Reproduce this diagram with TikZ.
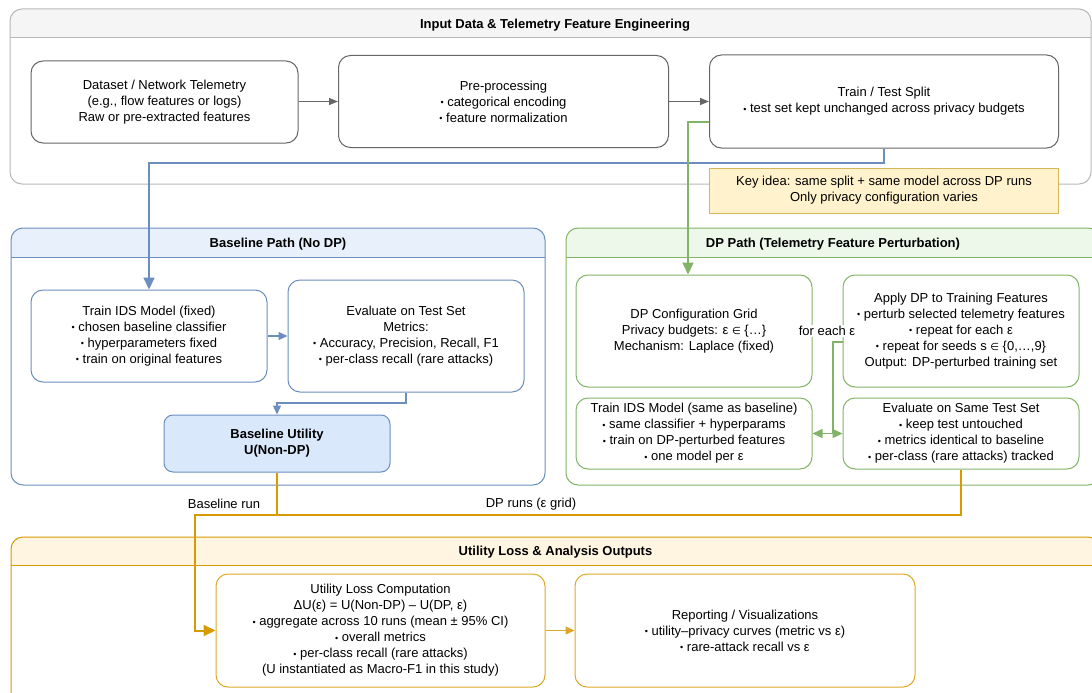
\documentclass[tikz,border=0pt]{standalone}
\usepackage{fontspec}
\setmainfont{Liberation Sans}
\newfontfamily\dv{DejaVu Sans}
\usetikzlibrary{arrows.meta}
\definecolor{gline}{HTML}{666666}
\definecolor{gcont}{HTML}{B8B8B8}
\definecolor{ghdr}{HTML}{F5F5F5}
\definecolor{bline}{HTML}{6C8EBF}
\definecolor{bhdr}{HTML}{E8F0FC}
\definecolor{bfill}{HTML}{DAE8FC}
\definecolor{gnline}{HTML}{82B366}
\definecolor{gnhdr}{HTML}{EDF7EA}
\definecolor{oline}{HTML}{D79B00}
\definecolor{obox}{HTML}{DDA82A}
\definecolor{ohdr}{HTML}{FFF5E1}
\definecolor{keyfill}{HTML}{FFF2CC}
\definecolor{keyline}{HTML}{D6B656}
\newcommand{\elem}{{\dv\fontsize{10}{16}\selectfont ∈}}
\newcommand{\bul}{{\fontsize{9}{16}\selectfont\raisebox{0.8pt}{•}}}
\tikzset{
  every node/.style={font=\fontsize{13}{16}\selectfont, text=black},
  box/.style={draw, rounded corners=12pt, fill=white, align=center, inner sep=2pt, line width=1pt},
  gbox/.style={box, draw=gline},
  bbox/.style={box, draw=bline},
  gnbox/.style={box, draw=gnline},
  obx/.style={box, draw=obox},
  ttl/.style={font=\bfseries\fontsize{13}{16}\selectfont},
  lbl/.style={font=\fontsize{13}{16}\selectfont},
  garr/.style={draw=gline, line width=1.2pt, -{Triangle[length=9pt,width=7pt]}},
  barr/.style={draw=bline, line width=1.3pt, -{Triangle[length=9pt,width=8pt]}},
  bigb/.style={draw=bline, line width=2pt, -{Triangle[length=12pt,width=11pt]}},
  bigg/.style={draw=gnline, line width=2pt, -{Triangle[length=12pt,width=11pt]}},
  gnarr/.style={draw=gnline, line width=1.5pt, -{Triangle[length=10pt,width=9pt]}},
  oln/.style={draw=oline, line width=2pt},
  bigo/.style={draw=oline, line width=2pt, -{Triangle[length=12pt,width=11pt]}},
  oarr/.style={draw=obox, line width=1.3pt, -{Triangle[length=9pt,width=8pt]}},
}
\begin{document}
\begin{tikzpicture}[x=1pt,y=-1pt]
\useasboundingbox (0,0) rectangle (1092,693);
\clip (0,0) rectangle (1092,693);
\fill[white] (0,0) rectangle (1092,693);

% ---------- containers ----------
% top
\begin{scope}
\clip[rounded corners=12pt] (10,9) rectangle (1091,184);
\fill[white] (10,9) rectangle (1091,184);
\fill[ghdr] (10,9) rectangle (1091,38);
\end{scope}
\draw[gcont, line width=1pt, rounded corners=12pt] (10,9) rectangle (1091,184);
\draw[gcont, line width=1pt] (10,38) -- (1091,38);
\node[ttl] (t1) at (555,25) {Input Data \& Telemetry Feature Engineering};

% baseline
\begin{scope}
\clip[rounded corners=12pt] (11,228) rectangle (545,485);
\fill[white] (11,228) rectangle (545,485);
\fill[bhdr] (11,228) rectangle (545,257);
\end{scope}
\draw[bline, line width=1pt, rounded corners=12pt] (11,228) rectangle (545,485);
\draw[bline, line width=1pt] (11,257) -- (545,257);
\node[ttl] (t2) at (278,244) {Baseline Path (No DP)};

% dp
\begin{scope}
\clip[rounded corners=12pt] (566,228) rectangle (1100,485);
\fill[white] (566,228) rectangle (1100,485);
\fill[gnhdr] (566,228) rectangle (1100,257);
\end{scope}
\draw[gnline, line width=1pt, rounded corners=12pt] (566,228) rectangle (1100,485);
\draw[gnline, line width=1pt] (566,257) -- (1100,257);
\node[ttl] (t3) at (833,244) {DP Path (Telemetry Feature Perturbation)};

% utility
\begin{scope}
\clip[rounded corners=12pt] (11,537) rectangle (1100,710);
\fill[white] (11,537) rectangle (1100,710);
\fill[ohdr] (11,537) rectangle (1100,565);
\end{scope}
\draw[oline, line width=1pt, rounded corners=12pt] (11,537) rectangle (1100,710);
\draw[oline, line width=1pt] (11,565) -- (1100,565);
\node[ttl] (t4) at (555.5,552) {Utility Loss \& Analysis Outputs};

% ---------- boxes ----------
\node[gbox, minimum width=267pt, minimum height=82pt] (ds) at (164.5,102)
  {Dataset / Network Telemetry\\(e.g., flow features or logs)\\Raw or pre-extracted features};
\node[gbox, minimum width=330pt, minimum height=92pt] (pp) at (503.5,101.5)
  {Pre-processing\\\bul\ categorical encoding\\\bul\ feature normalization};
\node[gbox, minimum width=349pt, minimum height=93pt] (tt) at (884,101.5)
  {Train / Test Split\\\bul\ test set kept unchanged across privacy budgets};
\node[draw=keyline, fill=keyfill, line width=1pt, align=center, minimum width=349pt, minimum height=45pt, inner sep=2pt] (key) at (884,190.5)
  {Key idea: same split + same model across DP runs\\Only privacy configuration varies};

\node[bbox, minimum width=236pt, minimum height=92pt] (tr1) at (149,336)
  {Train IDS Model (fixed)\\\bul\ chosen baseline classifier\\\bul\ hyperparameters fixed\\\bul\ train on original features};
\node[bbox, minimum width=236pt, minimum height=112pt] (ev1) at (406,336)
  {Evaluate on Test Set\\Metrics:\\\bul\ Accuracy, Precision, Recall, F1\\\bul\ per-class recall (rare attacks)};
\node[bbox, fill=bfill, font=\bfseries\fontsize{13}{16}\selectfont, rounded corners=9pt, minimum width=226pt, minimum height=57pt] (bu) at (277,443.5)
  {Baseline Utility\\U(Non-DP)};

\node[gnbox, minimum width=236pt, minimum height=112pt] (cfg) at (694,331)
  {DP Configuration Grid\\Privacy budgets: ε \elem\ \{…\}\\Mechanism: Laplace (fixed)};
\node[gnbox, minimum width=236pt, minimum height=112pt] (app) at (961,331)
  {Apply DP to Training Features\\\bul\ perturb selected telemetry features\\\bul\ repeat for each ε\\\bul\ repeat for seeds s \elem\ \{0,…,9\}\\Output: DP-perturbed training set};
\node[gnbox, minimum width=236pt, minimum height=71pt] (tr2) at (694,433.5)
  {Train IDS Model (same as baseline)\\\bul\ same classifier + hyperparams\\\bul\ train on DP-perturbed features\\\bul\ one model per ε};
\node[gnbox, minimum width=236pt, minimum height=71pt] (ev2) at (961,433.5)
  {Evaluate on Same Test Set\\\bul\ keep test untouched\\\bul\ metrics identical to baseline\\\bul\ per-class (rare attacks) tracked};
\node[lbl, fill=white, inner sep=1pt] (fe) at (827,331) {for each ε};

\node[obx, minimum width=329pt, minimum height=113pt] (ul) at (380.5,630.5)
  {Utility Loss Computation\\ΔU(ε) = U(Non-DP) – U(DP, ε)\\\bul\ aggregate across 10 runs (mean ± 95\% CI)\\\bul\ overall metrics\\\bul\ per-class recall (rare attacks)\\(U instantiated as Macro-F1 in this study)};
\node[obx, minimum width=340pt, minimum height=113pt] (rep) at (745,630.5)
  {Reporting / Visualizations\\\bul\ utility–privacy curves (metric vs ε)\\\bul\ rare-attack recall vs ε};

% ---------- helper coordinates ----------
\coordinate (yB) at (0,163);
\coordinate (yG) at (0,122);
\coordinate (xG) at (688,0);
\coordinate (yE) at (0,403);
\coordinate (yA) at (0,342);
\coordinate (xA) at (833,0);
\coordinate (yO) at (0,515);
\coordinate (xO) at (195,0);

% ---------- connectors ----------
\draw[garr] (ds.east |- pp.west) -- (pp.west);
\draw[garr] (pp.east) -- (tt.west);
\draw[bigb] (tt.south) -- (tt.south |- yB) -| (tr1.north);
\draw[bigg] (tt.west |- yG) -| (xG |- cfg.north);
\draw[barr] (tr1.east) -- (ev1.west);
\draw[barr] (ev1.south) -- (ev1.south |- yE) -| (bu.north);
\draw[gnarr] (app.west |- yA) -| (xA |- tr2.east) -- (tr2.east);
\draw[gnarr] (tr2.east) -- (ev2.west);
\draw[oln] (ev2.south) -- (ev2.south |- yO) -- (bu.south |- yO);
\draw[bigo] (bu.south) -- (bu.south |- yO) -| (xO |- ul.west) -- (ul.west);
\draw[oarr] (ul.east) -- (rep.west);

\node[lbl] (l1) at (224,504) {Baseline run};
\node[lbl] (l2) at (531,504) {DP runs (ε grid)};
\end{tikzpicture}
\end{document}
